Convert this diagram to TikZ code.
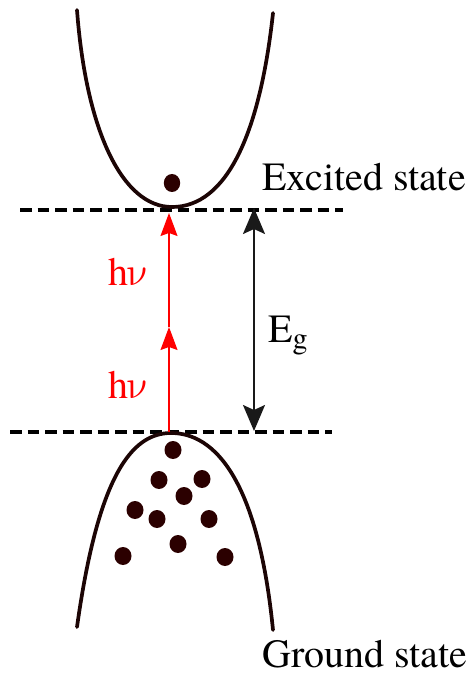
\documentclass[tikz,border=0pt]{standalone}
\usepackage{fontspec}
\setmainfont{texgyretermes-regular.otf}
\IfFontExistsTF{STIXTwoText-Regular.otf}{\newfontfamily\nufont{STIXTwoText-Regular.otf}}{%
 \IfFontExistsTF{LibertinusSerif-Regular.otf}{\newfontfamily\nufont{LibertinusSerif-Regular.otf}}{%
  \IfFontExistsTF{latinmodern-math.otf}{\newfontfamily\nufont{latinmodern-math.otf}}{%
   \newfontfamily\nufont{Liberation Serif}}}}
\usetikzlibrary{arrows.meta}
\definecolor{curvec}{HTML}{1C0505}
\definecolor{dotc}{HTML}{2B0000}
\begin{document}
\begin{tikzpicture}[x=1pt,y=-1pt,
  band/.style={line width=3.7pt, draw=curvec, line cap=round},
  level/.style={line width=3.2pt, draw=black, dash pattern=on 11.5pt off 6pt},
  electron/.style={fill=dotc, draw=none},
  photon/.style={draw=red, line width=1.4pt, -{Stealth[length=23pt,width=17pt,inset=3pt,fill=red]}},
  gaparrow/.style={draw=black!90, line width=2pt, {Stealth[length=26pt,width=22pt,inset=5pt]}-{Stealth[length=26pt,width=22pt,inset=5pt]}},
  lbl/.style={font=\fontsize{40}{48}\selectfont, inner sep=0pt, anchor=base west}]
\useasboundingbox (0,0) rectangle (468,676);

% energy levels
\coordinate (tl) at (20,210);
\coordinate (tr) at (343,210);
\coordinate (bl) at (10,432);
\coordinate (br) at (332,432);
\draw[level] (tl) -- (tr);
\draw[level] (bl) -- (br);

% conduction band (top)
\coordinate (cbL) at (77,10);
\coordinate (cbV) at (172,207);
\coordinate (cbR) at (273,13);
\draw[band] (cbL) .. controls (86,130) and (122,207) .. (cbV)
                  .. controls (227,207) and (260,133) .. (cbR);

% valence band (bottom)
\coordinate (vbL) at (77,627);
\coordinate (vbV) at (171,433);
\coordinate (vbR) at (273,630);
\draw[band] (vbL) .. controls (98,477) and (131,433) .. (vbV)
                  .. controls (215,433) and (258,480) .. (vbR);

% electrons
\fill[electron] (172,183) ellipse [x radius=8.2, y radius=9];
\foreach \p in {(173,450),(159,480),(202,479),(184,496),(135,510),
                (157,519),(209,519),(178,544),(123,556),(225,557)}
  \fill[electron] \p ellipse [x radius=8.5, y radius=9];

% photon arrows
\coordinate (r0) at (169,432);
\coordinate (r1) at (169,327);
\coordinate (r2) at (169,213);
\draw[photon] (r0) -- (r1);
\draw[photon] (r1) -- (r2);

% band gap arrow
\coordinate (e1) at (254,208);
\coordinate (e2) at (254,431);
\draw[gaparrow] (e1) -- (e2);

% labels
\node[lbl] (exc) at (262,190) {Excited state};
\node[lbl] (gnd) at (262,667) {Ground state};
\node[lbl, text=red] (hv1) at (108,285) {h{\nufont ν}};
\node[lbl, text=red] (hv2) at (108,398) {h{\nufont ν}};
\node[lbl] (eg) at (268,342) {E\raisebox{-6pt}{\fontsize{30}{31}\selectfont g}};
\end{tikzpicture}
\end{document}
